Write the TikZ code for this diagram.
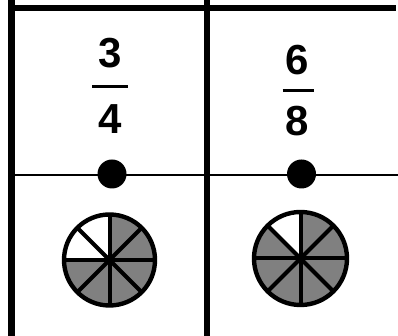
\documentclass[tikz,border=0pt]{standalone}
\usepackage{fontspec}
\setmainfont{Liberation Sans}
\definecolor{piegray}{RGB}{128,128,128}
\tikzset{
  thickrule/.style={line width=6.5pt, black},
  thinrule/.style={line width=1.4pt, black},
  digit/.style={font=\fontsize{42}{42}\selectfont\bfseries, inner sep=0pt},
  fracbar/.style={line width=3pt, black},
  dotmark/.style={circle, fill=black, minimum size=29pt, inner sep=0pt},
  pieline/.style={line width=4pt, black},
  pierim/.style={line width=4.4pt, black},
}
\begin{document}
\begin{tikzpicture}[x=1pt,y=1pt]
\useasboundingbox (0,0) rectangle (398,336);
\fill[white] (0,0) rectangle (398,336);
% grid lines
\coordinate (tl) at (11.5,328);
\coordinate (tr) at (396,328);
\coordinate (lt) at (11.5,336);
\coordinate (lb) at (11.5,0);
\coordinate (mt) at (207,336);
\coordinate (mb) at (207,0);
\coordinate (hl) at (11.5,161);
\coordinate (hr) at (398,161);
\draw[thinrule] (hl) -- (hr);
\draw[thickrule] (tl) -- (tr);
\draw[thickrule] (lt) -- (lb);
\draw[thickrule] (mt) -- (mb);
% fractions
\node[digit] (n1) at (110.5,283) {3};
\node[digit] (d1) at (110.5,217) {4};
\coordinate (b1l) at (92,249.5);
\coordinate (b1r) at (128,249.5);
\draw[fracbar] (b1l) -- (b1r);
\node[digit] (n2) at (297.5,275.5) {6};
\node[digit] (d2) at (297.5,214.5) {8};
\coordinate (b2l) at (282.5,245);
\coordinate (b2r) at (314,245);
\draw[fracbar] (b2l) -- (b2r);
% dots
\node[dotmark] (p1) at (112,162) {};
\node[dotmark] (p2) at (301.5,162) {};
% left pie: 6 of 8 shaded
\begin{scope}[shift={(109.5,76)}]
  \fill[piegray] (0,0) -- (180:45.5) arc[start angle=180, end angle=450, radius=45.5] -- cycle;
  \foreach \a in {0,45,90,135} \draw[pieline] (\a:45.5) -- (\a+180:45.5);
  \draw[pierim] (0,0) circle[radius=45.5];
\end{scope}
% right pie: 7 of 8 shaded
\begin{scope}[shift={(300.5,77.5)}]
  \fill[piegray] (0,0) -- (135:46.5) arc[start angle=135, end angle=450, radius=46.5] -- cycle;
  \foreach \a in {0,45,90,135} \draw[pieline] (\a:46.5) -- (\a+180:46.5);
  \draw[pierim] (0,0) circle[radius=46.5];
\end{scope}
\end{tikzpicture}
\end{document}
